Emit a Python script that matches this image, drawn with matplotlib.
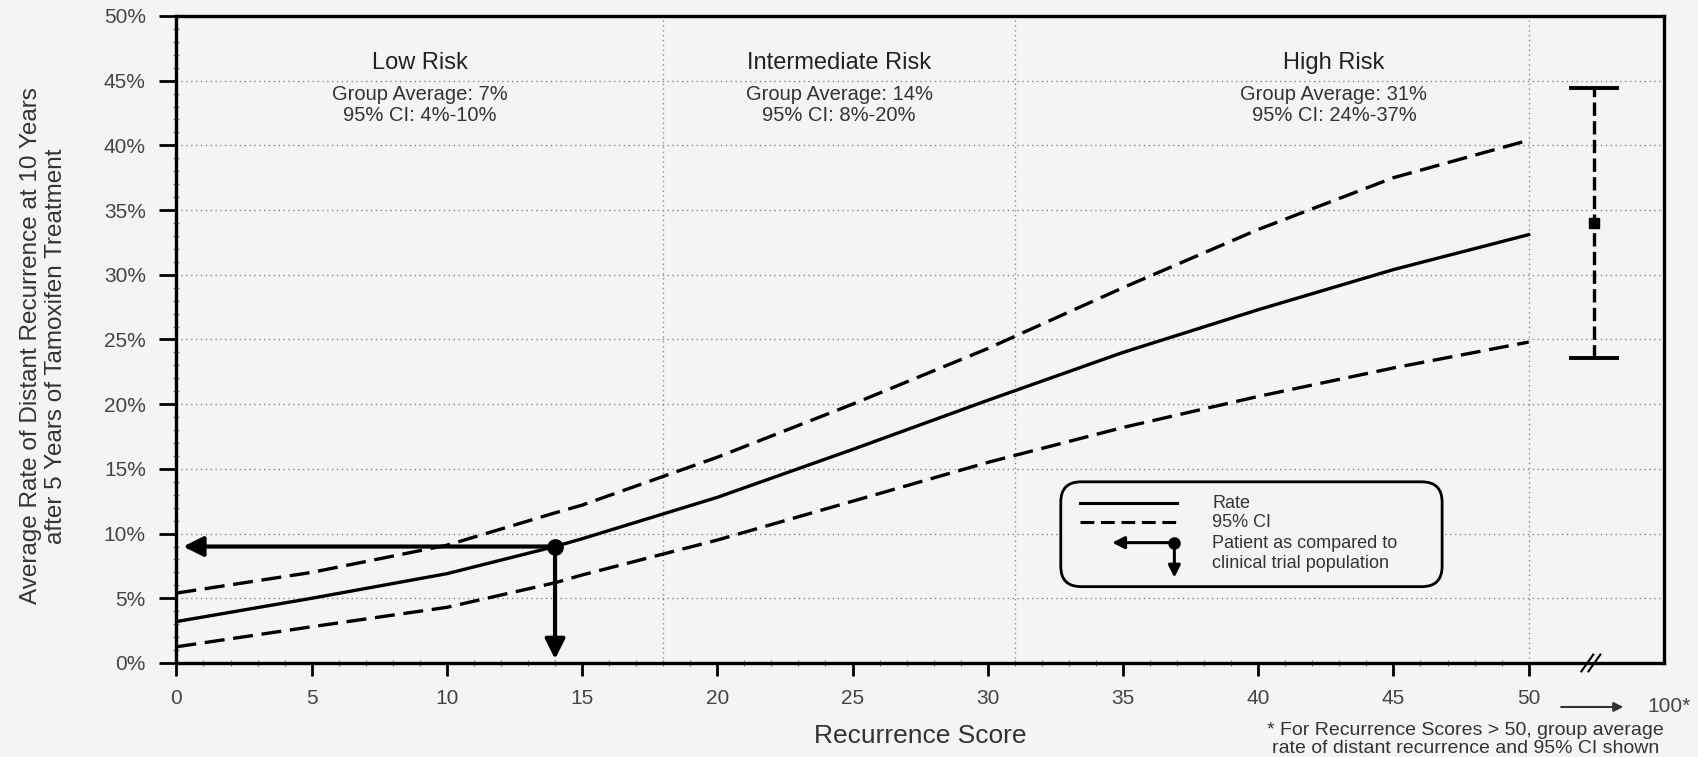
import matplotlib
matplotlib.use("Agg")
import matplotlib.pyplot as plt
from matplotlib.patches import FancyBboxPatch

plt.rcParams['font.family'] = ['Liberation Sans', 'DejaVu Sans']

# ---- data ----
scores = [0, 5, 10, 14, 15, 20, 25, 30, 35, 40, 45, 50]
rate = [3.2, 5.0, 6.9, 9.0, 9.6, 12.8, 16.5, 20.3, 24.0, 27.3, 30.4, 33.1]
ci_upper = [5.4, 7.0, 9.1, 11.6, 12.2, 15.9, 20.0, 24.3, 29.0, 33.5, 37.5, 40.4]
ci_lower = [1.25, 2.8, 4.3, 6.2, 6.8, 9.5, 12.5, 15.5, 18.2, 20.6, 22.8, 24.8]

patient_score = 14
patient_rate = 9.0

high_mean = 34.0
high_lo = 23.6
high_hi = 44.4

group_names = ["Low Risk", "Intermediate Risk", "High Risk"]
group_avgs = ["Group Average: 7%", "Group Average: 14%", "Group Average: 31%"]
group_cis = ["95% CI: 4%-10%", "95% CI: 8%-20%", "95% CI: 24%-37%"]
group_bounds = [18, 31, 50]

xticks = list(range(0, 51, 5))
yticks = list(range(0, 51, 5))

# ---- figure ----
bg = '#f4f4f5'
fig = plt.figure(figsize=(16.98, 7.57), dpi=100, facecolor=bg)
ax = fig.add_axes([0.1039, 0.1242, 0.876, 0.8547])
ax.set_facecolor(bg)
ax.set_xlim(0, 55)
ax.set_ylim(0, 50)

txt = '#333333'
# grid
for y in yticks[1:-1]:
    ax.axhline(y, color='#8a8a8a', lw=1.0, ls=(0, (1, 2.5)), zorder=1)
for xb in group_bounds:
    ax.axvline(xb, color='#8a8a8a', lw=1.0, ls=(0, (1, 2.5)), zorder=1)

# curves
ax.plot(scores, rate, color='black', lw=2.4, zorder=3)
ax.plot(scores, ci_upper, color='black', lw=2.4, dashes=(6, 2.6), zorder=3)
ax.plot(scores, ci_lower, color='black', lw=2.4, dashes=(6, 2.6), zorder=3)

# patient arrows
ax.annotate('', xy=(0.25, patient_rate), xytext=(patient_score, patient_rate),
            arrowprops=dict(arrowstyle='-|>', color='black', lw=3,
                            mutation_scale=30, shrinkA=0, shrinkB=0), zorder=4)
ax.annotate('', xy=(patient_score, 0.3), xytext=(patient_score, patient_rate),
            arrowprops=dict(arrowstyle='-|>', color='black', lw=3,
                            mutation_scale=30, shrinkA=0, shrinkB=0), zorder=4)
ax.plot([patient_score], [patient_rate], 'o', color='black', ms=11, zorder=5)

# high risk (>50) error bar
hx = 52.4
ax.plot([hx, hx], [high_lo, high_hi], color='black', lw=2.4, dashes=(4, 1.6), zorder=3)
ax.plot([hx - 0.85, hx + 0.85], [high_hi, high_hi], color='black', lw=2.8, zorder=3)
ax.plot([hx - 0.85, hx + 0.85], [high_lo, high_lo], color='black', lw=2.8, zorder=3)
ax.plot([hx], [high_mean], 's', color='black', ms=6.5, zorder=4)

# group labels
for cx, n, a, c in zip([9.0, 24.5, 42.8], group_names, group_avgs, group_cis):
    ax.text(cx, 46.4, n, ha='center', va='center', fontsize=17, color='#222222')
    ax.text(cx, 43.9, a, ha='center', va='center', fontsize=14.5, color=txt)
    ax.text(cx, 42.3, c, ha='center', va='center', fontsize=14.5, color=txt)

# legend box
box = FancyBboxPatch((32.7, 5.9), 14.1, 8.1,
                     boxstyle='round,pad=0,rounding_size=0.75',
                     mutation_aspect=2.09, fc=bg, ec='black', lw=2.0, zorder=6)
ax.add_patch(box)
ax.plot([33.4, 37.0], [12.4, 12.4], color='black', lw=2.2, zorder=7)
ax.plot([33.4, 37.0], [10.9, 10.9], color='black', lw=2.2, dashes=(4.5, 2.2), zorder=7)
ax.annotate('', xy=(34.6, 9.3), xytext=(36.9, 9.3),
            arrowprops=dict(arrowstyle='-|>', color='black', lw=2.2,
                            mutation_scale=18, shrinkA=0, shrinkB=0), zorder=7)
ax.annotate('', xy=(36.9, 6.6), xytext=(36.9, 9.3),
            arrowprops=dict(arrowstyle='-|>', color='black', lw=2.2,
                            mutation_scale=18, shrinkA=0, shrinkB=0), zorder=7)
ax.plot([36.9], [9.3], 'o', color='black', ms=8, zorder=8)
for yy, s in zip([12.35, 10.85, 9.25, 7.65],
                 ["Rate", "95% CI", "Patient as compared to", "clinical trial population"]):
    ax.text(38.3, yy, s, ha='left', va='center', fontsize=13, color=txt, zorder=8)

# axes styling
for side in ['left', 'right', 'top', 'bottom']:
    ax.spines[side].set_linewidth(2.4)
    ax.spines[side].set_color('black')
ax.set_xticks(xticks)
ax.set_xticklabels([str(v) for v in xticks])
ax.set_yticks(yticks)
ax.set_yticklabels([f"{v}%" for v in yticks])
ax.set_xticks(range(0, 51), minor=True)
ax.set_yticks(range(0, 51), minor=True)
ax.tick_params(axis='y', which='major', direction='out', length=12, width=2,
               labelsize=15, labelcolor='#444444', pad=10)
ax.tick_params(axis='x', which='major', direction='out', length=9.5, width=2,
               labelsize=15, labelcolor='#444444', pad=9)
ax.tick_params(axis='both', which='minor', direction='inout', length=4, width=0.9,
               color='#777777')

# "50 ---> 100*" and axis break
xt = ax.get_xaxis_transform()
ax.annotate('', xy=(53.5, -0.068), xycoords=xt, xytext=(51.2, -0.068), textcoords=xt,
            arrowprops=dict(arrowstyle='-|>', color='#333333', lw=1.5,
                            mutation_scale=14, shrinkA=0, shrinkB=0))
ax.text(55.2, -0.068, "100*", transform=xt, ha='center', va='center',
        fontsize=15, color='#444444', clip_on=False)
for dx in (-0.13, 0.13):
    ax.plot([52.3 + dx - 0.22, 52.3 + dx + 0.22], [-0.013, 0.013], transform=xt,
            color='black', lw=1.5, clip_on=False, zorder=9)

# axis labels
ax.set_xlabel("Recurrence Score", fontsize=19, color=txt, labelpad=12)
fig.text(0.0256, 0.543, "Average Rate of Distant Recurrence at 10 Years\n"
         "after 5 Years of Tamoxifen Treatment", rotation=90, ha='center',
         va='center', multialignment='center', fontsize=17.5, color=txt,
         linespacing=1.2)

# footnote
fig.text(0.863, 0.0, "* For Recurrence Scores > 50, group average\n"
         "rate of distant recurrence and 95% CI shown", ha='center', va='bottom',
         fontsize=14, color=txt, linespacing=1.05)

fig.savefig("out.png", dpi=100, facecolor=bg)
